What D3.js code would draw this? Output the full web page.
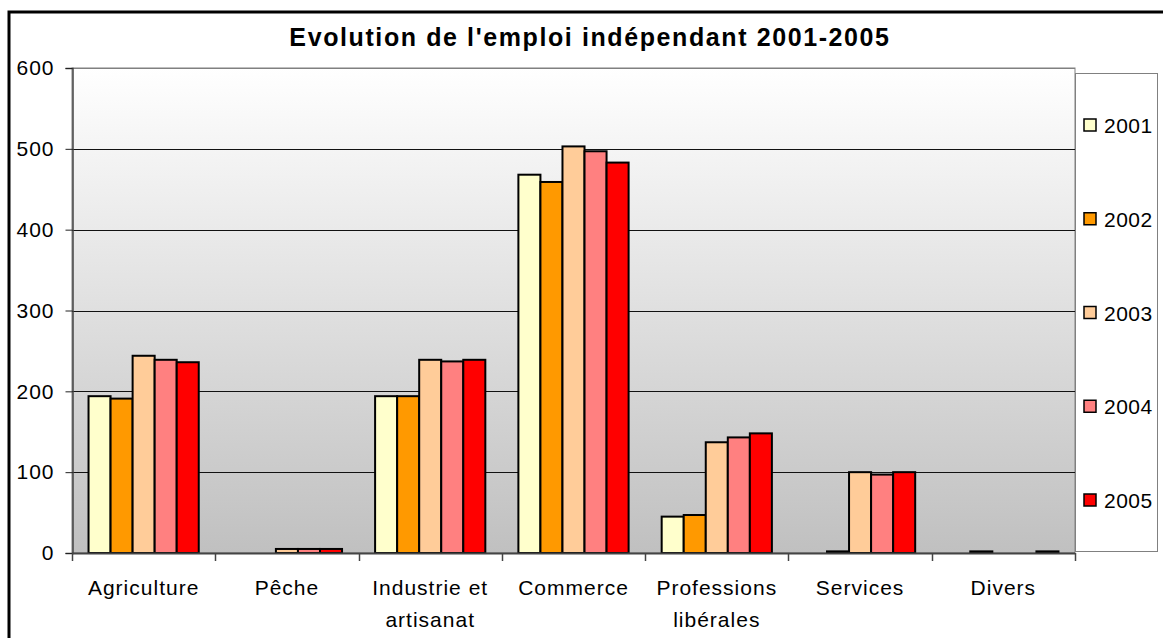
<!DOCTYPE html>
<html><head><meta charset="utf-8">
<script src="https://cdn.jsdelivr.net/npm/d3@7"></script>
<style>
html,body{margin:0;padding:0;background:#fff;}
svg{display:block;font-family:"Liberation Sans",Arial,sans-serif;}
</style></head>
<body>
<svg id="c" width="1163" height="638"></svg>
<script>
const title = "Evolution de l'emploi indépendant 2001-2005";
const categories = ["Agriculture", "Pêche", "Industrie et\nartisanat", "Commerce", "Professions\nlibérales", "Services", "Divers"];
const years = ["2001", "2002", "2003", "2004", "2005"];
const v2001 = [194, 0, 194, 468, 45, 0, 0];
const v2002 = [191, 0, 194, 459, 47, 2, 2];
const v2003 = [244, 5, 239, 503, 137, 100, 0];
const v2004 = [239, 5, 237, 497, 143, 97, 0];
const v2005 = [236, 5, 239, 483, 148, 100, 2];
const yTicks = [0, 100, 200, 300, 400, 500, 600];
const colors = ["#FFFFCC", "#FF9900", "#FFCC99", "#FF8080", "#FF0000"];
const seriesValues = [v2001, v2002, v2003, v2004, v2005];

const svg = d3.select("#c");
const L = 72, R = 1075, T = 68, B = 553;

// outer chart border
svg.append("rect").attr("x", 9).attr("y", 12).attr("width", 1200).attr("height", 700)
  .attr("fill", "#fff").attr("stroke", "#000").attr("stroke-width", 3);

// gradient
const defs = svg.append("defs");
const g = defs.append("linearGradient").attr("id", "bg").attr("x1", 0).attr("y1", 0).attr("x2", 0).attr("y2", 1);
g.append("stop").attr("offset", "0%").attr("stop-color", "#ffffff");
g.append("stop").attr("offset", "100%").attr("stop-color", "#c0c0c0");

svg.append("rect").attr("x", L).attr("y", T).attr("width", R - L).attr("height", B - T)
  .attr("fill", "url(#bg)").attr("stroke", "#808080").attr("stroke-width", 1);

const y = d3.scaleLinear().domain([0, 600]).range([B, T]);
const x0 = d3.scaleBand().domain(categories).range([L, R]).paddingInner(0).paddingOuter(0);
const gapFrac = 1.5 / 6.5;
const x1 = d3.scaleBand().domain(years)
  .range([x0.bandwidth() * gapFrac / 2, x0.bandwidth() * (1 - gapFrac / 2)]).padding(0);

// gridlines
svg.append("g").selectAll("line").data(yTicks.filter(t => t > 0)).join("line")
  .attr("x1", L).attr("x2", R).attr("y1", d => Math.round(y(d)) + 0.5).attr("y2", d => Math.round(y(d)) + 0.5)
  .attr("stroke", d => d === 600 ? "#808080" : "#111").attr("stroke-width", 1);

// bars
const groups = svg.append("g").selectAll("g").data(categories).join("g")
  .attr("transform", d => `translate(${x0(d)},0)`);
groups.selectAll("rect").data((c, i) => years.map((yr, j) => ({yr, j, v: seriesValues[j][i]})).filter(d => d.v > 0))
  .join("rect")
  .attr("x", d => x1(d.yr))
  .attr("width", x1.bandwidth())
  .attr("y", d => y(d.v))
  .attr("height", d => B - y(d.v))
  .attr("fill", d => colors[d.j])
  .attr("stroke", "#000").attr("stroke-width", 2);

// y axis
const yAxis = d3.axisLeft(y).tickValues(yTicks).tickSize(7).tickPadding(11);
const ya = svg.append("g").attr("transform", `translate(${L + 0.5},0)`).call(yAxis);
ya.select(".domain").attr("stroke", "#444").attr("stroke-width", 1.5);
ya.selectAll(".tick line").attr("stroke", "#222");
ya.selectAll("text").attr("font-size", 21).attr("letter-spacing", 1).attr("fill", "#000")
  .attr("font-family", "Liberation Sans, Arial, sans-serif");

// x axis line + ticks at category boundaries
const bounds = categories.map(c => x0(c)).concat([R]);
svg.append("line").attr("x1", L).attr("x2", R).attr("y1", B + 0.5).attr("y2", B + 0.5)
  .attr("stroke", "#444").attr("stroke-width", 2);
svg.append("g").selectAll("line").data(bounds).join("line")
  .attr("x1", d => Math.round(d) + 0.5).attr("x2", d => Math.round(d) + 0.5)
  .attr("y1", B).attr("y2", B + 8).attr("stroke", "#444").attr("stroke-width", 1.5);

// category labels
svg.append("g").selectAll("text").data(categories).join("text")
  .attr("x", d => x0(d) + x0.bandwidth() / 2)
  .attr("y", 595)
  .attr("text-anchor", "middle")
  .attr("font-size", 21).attr("letter-spacing", 1)
  .each(function(d) {
    const lines = d.split("\n");
    d3.select(this).selectAll("tspan").data(lines).join("tspan")
      .attr("x", x0(d) + x0.bandwidth() / 2)
      .attr("dy", (l, i) => i === 0 ? 0 : 32)
      .text(l => l);
  });

// title
svg.append("text").attr("x", 590).attr("y", 46).attr("text-anchor", "middle")
  .attr("font-size", 25).attr("font-weight", "bold").attr("letter-spacing", 1.6).text(title);

// legend
const lg = svg.append("g");
lg.append("rect").attr("x", 1075.5).attr("y", 73.5).attr("width", 82).attr("height", 478)
  .attr("fill", "#fff").attr("stroke", "#808080").attr("stroke-width", 1);
const ly = d3.scalePoint().domain(years).range([125, 500]);
const items = lg.selectAll("g").data(years).join("g").attr("transform", d => `translate(0,${ly(d)})`);
items.append("rect").attr("x", 1084).attr("y", -6).attr("width", 12).attr("height", 12)
  .attr("fill", (d, i) => colors[i]).attr("stroke", "#000").attr("stroke-width", 1.5);
items.append("text").attr("x", 1104).attr("y", 8).attr("font-size", 21).attr("letter-spacing", 0.5).text(d => d);
</script>
</body></html>
